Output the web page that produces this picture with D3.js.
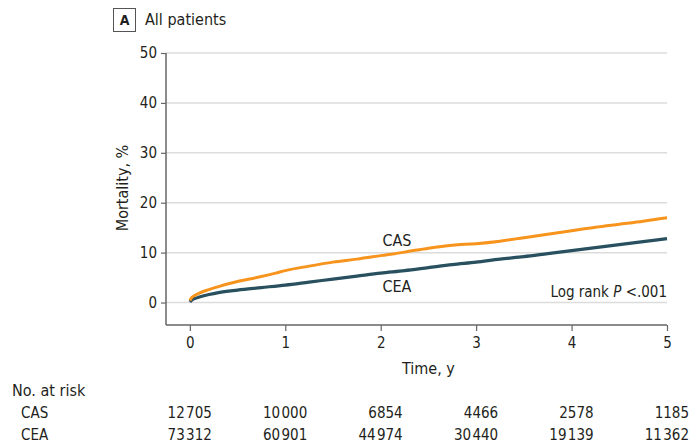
<!DOCTYPE html>
<html>
<head>
<meta charset="utf-8">
<script src="https://cdn.jsdelivr.net/npm/d3@7"></script>
<style>
  body { margin: 0; background: #fff; }
  svg { display: block; font-family: "DejaVu Sans Condensed", "DejaVu Sans", sans-serif; font-stretch: condensed; }
  svg text { font-family: "DejaVu Sans Condensed", "DejaVu Sans", sans-serif; font-stretch: condensed; }
  .tick text { fill: #231f20; }
</style>
</head>
<body>
<div class="canvas"></div>
<script>
// Kaplan-Meier style cumulative mortality (time in years, %)
const casTime = [0, 0.02, 0.05, 0.1, 0.2, 0.3, 0.5, 0.7, 0.9, 1, 1.25, 1.5, 1.75, 2, 2.25, 2.5, 2.75, 3, 3.25, 3.5, 3.75, 4, 4.25, 4.5, 4.75, 5];
const casMort = [0.4, 1.0, 1.4, 1.9, 2.6, 3.2, 4.2, 5.0, 5.9, 6.4, 7.3, 8.1, 8.7, 9.4, 10.1, 10.9, 11.5, 11.8, 12.3, 13.0, 13.7, 14.4, 15.1, 15.7, 16.3, 17.0];
const ceaTime = [0, 0.02, 0.05, 0.1, 0.2, 0.3, 0.5, 0.75, 1, 1.25, 1.5, 1.75, 2, 2.25, 2.5, 2.75, 3, 3.25, 3.5, 3.75, 4, 4.25, 4.5, 4.75, 5];
const ceaMort = [0.1, 0.5, 0.8, 1.1, 1.6, 2.0, 2.5, 3.0, 3.5, 4.1, 4.7, 5.3, 5.9, 6.4, 7.0, 7.6, 8.1, 8.7, 9.2, 9.8, 10.4, 11.0, 11.6, 12.2, 12.8];

const yTicks = [0, 10, 20, 30, 40, 50];
const xTicks = [0, 1, 2, 3, 4, 5];
const groups = ["CAS", "CEA"];
const atRiskCAS = [12705, 10000, 6854, 4466, 2578, 1185];
const atRiskCEA = [73312, 60901, 44974, 30440, 19139, 11362];

const width = 691;
const height = 445;
const orange = "#f7941d";
const teal = "#28505f";
const textColor = "#231f20";

const svg = d3.select(".canvas").append("svg")
  .attr("width", width)
  .attr("height", height);

const x = d3.scaleLinear().domain([-0.25, 5]).range([166, 667]);
const y = d3.scaleLinear().domain([-4.5, 50]).range([325, 53]);

// title
svg.append("rect")
  .attr("x", 113.5).attr("y", 8.5).attr("width", 22).attr("height", 23)
  .attr("fill", "none").attr("stroke", "#555").attr("stroke-width", 1);
svg.append("text")
  .attr("x", 124.5).attr("y", 25)
  .attr("text-anchor", "middle")
  .attr("font-size", 14).attr("font-weight", "bold")
  .attr("fill", textColor)
  .text("A");
svg.append("text")
  .attr("x", 145).attr("y", 25)
  .attr("font-size", 16)
  .attr("fill", textColor)
  .text("All patients");

// grid
svg.append("g")
  .selectAll("line")
  .data(yTicks)
  .join("line")
  .attr("x1", x(-0.25)).attr("x2", x(5))
  .attr("y1", (d) => y(d)).attr("y2", (d) => y(d))
  .attr("stroke", "#dcdcdc").attr("stroke-width", 1.5);

// y axis
const yAxis = svg.append("g")
  .attr("transform", `translate(${x(-0.25)},0)`)
  .call(d3.axisLeft(y).tickValues(yTicks).tickSize(5).tickPadding(4));
yAxis.select(".domain").attr("d", `M0,${y(50)}V${y(-4.5)}`).attr("stroke", "#666").attr("stroke-width", 1.5);
yAxis.selectAll(".tick line").attr("stroke", "#666").attr("stroke-width", 1.2);
yAxis.selectAll("text").attr("font-size", 15).attr("font-family", null);

// x axis
const xAxis = svg.append("g")
  .attr("transform", `translate(0,${y(-4.5)})`)
  .call(d3.axisBottom(x).tickValues(xTicks).tickFormat(d3.format("d")).tickSize(6).tickPadding(6));
xAxis.select(".domain").attr("d", `M${x(-0.25)},0H${x(5)}`).attr("stroke", "#666").attr("stroke-width", 1.5);
xAxis.selectAll(".tick line").attr("stroke", "#666").attr("stroke-width", 1.2);
xAxis.selectAll("text").attr("font-size", 15).attr("font-family", null);

// axis titles
svg.append("text")
  .attr("transform", `translate(128,${(y(50) + y(-4.5)) / 2 - 1}) rotate(-90)`)
  .attr("text-anchor", "middle")
  .attr("font-size", 16)
  .attr("fill", textColor)
  .text("Mortality, %");
svg.append("text")
  .attr("x", (x(0) + x(5)) / 2).attr("y", 374)
  .attr("text-anchor", "middle")
  .attr("font-size", 16)
  .attr("fill", textColor)
  .text("Time, y");

// curves
const line = d3.line()
  .x((d) => x(d[0]))
  .y((d) => y(d[1]))
  .curve(d3.curveMonotoneX);

svg.append("path")
  .datum(ceaTime.map((t, i) => [t, ceaMort[i]]))
  .attr("d", line)
  .attr("fill", "none").attr("stroke", teal).attr("stroke-width", 3.2);
svg.append("path")
  .datum(casTime.map((t, i) => [t, casMort[i]]))
  .attr("d", line)
  .attr("fill", "none").attr("stroke", orange).attr("stroke-width", 3);

// curve labels
svg.append("text")
  .attr("x", x(2.17)).attr("y", 246)
  .attr("text-anchor", "middle").attr("font-size", 16).attr("fill", textColor)
  .text("CAS");
svg.append("text")
  .attr("x", x(2.17)).attr("y", 292)
  .attr("text-anchor", "middle").attr("font-size", 16).attr("fill", textColor)
  .text("CEA");

const logRank = svg.append("text")
  .attr("x", x(5)).attr("y", 297)
  .attr("text-anchor", "end").attr("font-size", 15).attr("fill", textColor);
logRank.append("tspan").text("Log rank ");
logRank.append("tspan").attr("font-style", "italic").text("P");
logRank.append("tspan").text(" <.001");

// number at risk table
const fmt = (n) => (n >= 10000 ? d3.format(",")(n).replace(",", "\u200a") : String(n));

svg.append("text")
  .attr("x", 12).attr("y", 396)
  .attr("font-size", 16).attr("fill", textColor)
  .text("No. at risk");

const rows = [atRiskCAS, atRiskCEA];
const rowY = [418, 440];
rows.forEach((vals, r) => {
  svg.append("text")
    .attr("x", 21).attr("y", rowY[r])
    .attr("font-size", 15).attr("fill", textColor)
    .text(groups[r]);
  svg.append("g")
    .selectAll("text")
    .data(vals)
    .join("text")
    .attr("x", (d, i) => x(xTicks[i]) + 22)
    .attr("y", rowY[r])
    .attr("text-anchor", "end")
    .attr("font-size", 15)
    .attr("fill", textColor)
    .text((d) => fmt(d));
});
</script>
</body>
</html>
